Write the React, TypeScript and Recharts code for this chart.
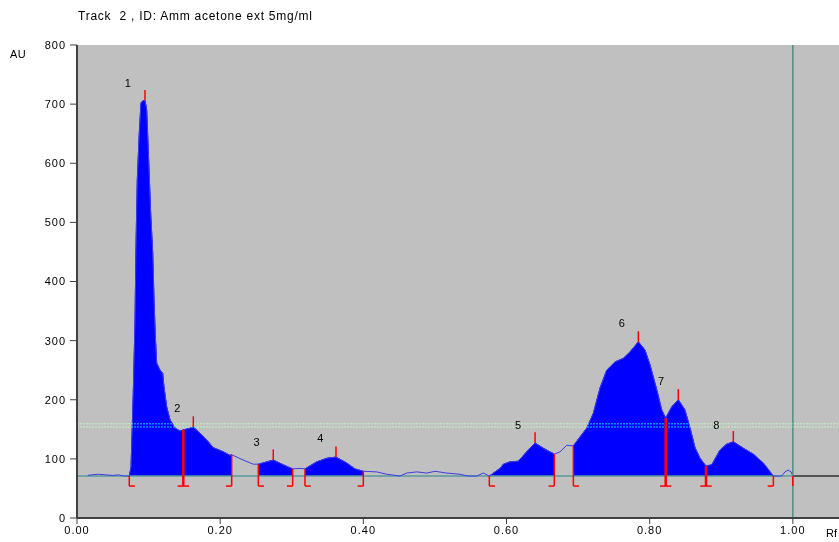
import React from 'react';
import {
  ComposedChart,
  Area,
  Line,
  XAxis,
  YAxis,
  CartesianGrid,
  ReferenceLine,
  ReferenceDot,
} from 'recharts';

const rfValues = [
  0.015, 0.02, 0.03, 0.04, 0.05, 0.058, 0.065, 0.073, 0.0755, 0.0787, 0.081, 0.0824, 0.0842, 0.087,
  0.0894, 0.0922, 0.095, 0.0974, 0.101, 0.1029, 0.1058, 0.1076, 0.1095, 0.1113, 0.116, 0.1197,
  0.1215, 0.1253, 0.13, 0.137, 0.1439, 0.1485, 0.1579, 0.1625, 0.1695, 0.1812, 0.1904, 0.2044,
  0.2137, 0.2161, 0.2323, 0.2463, 0.2533, 0.2742, 0.2882, 0.3013, 0.3115, 0.3185, 0.3349, 0.3488,
  0.3618, 0.3768, 0.3884, 0.4, 0.4187, 0.4327, 0.4512, 0.4606, 0.4746, 0.4885, 0.5001, 0.5165,
  0.5351, 0.5462, 0.5584, 0.5676, 0.576, 0.591, 0.5956, 0.6049, 0.6165, 0.6282, 0.6399, 0.6514,
  0.6668, 0.6748, 0.6841, 0.6934, 0.7027, 0.7121, 0.7213, 0.7307, 0.74, 0.7516, 0.7632, 0.7726,
  0.7842, 0.7935, 0.8005, 0.8099, 0.8168, 0.8224, 0.8308, 0.84, 0.8492, 0.8561, 0.8631, 0.8704,
  0.8787, 0.8867, 0.8983, 0.9077, 0.9169, 0.9309, 0.9448, 0.9588, 0.9728, 0.9845, 0.989, 0.9936,
  0.9975, 1.0,
];

const auValues = [
  72, 73, 74, 73, 72, 73, 71, 71, 86, 216, 330, 458, 572, 651,
  702, 706, 706, 690, 577, 516, 448, 369, 306, 262, 250, 245,
  222, 188, 166, 152, 147, 149, 152, 154, 146, 132, 119, 112,
  106, 107, 98, 91, 91, 98, 90, 83, 84, 83, 95, 101,
  103, 93, 83, 79, 78, 74, 71, 76, 78, 76, 79, 76,
  74, 71, 71, 76, 71, 84, 91, 95, 96, 112, 127, 118,
  108, 112, 123, 122, 137, 152, 177, 220, 250, 264, 270, 281,
  298, 284, 259, 217, 183, 169, 188, 200, 183, 154, 120, 101,
  88, 90, 115, 125, 129, 118, 108, 93, 71, 71, 78, 81,
  78, 71,
];

const regionStarts = [0.073, 0.2533, 0.3185, 0.576, 0.6934];
const regionEnds = [0.2161, 0.3013, 0.4, 0.6668, 0.9728];
const splitRf = [0.1485, 0.8224, 0.8787];
const trackEndRf = 1.0;

const peakRf = [0.095, 0.1625, 0.2742, 0.3618, 0.6399, 0.7842, 0.84, 0.9169];
const peakAu = [706, 154, 98, 103, 127, 298, 200, 129];
const peakNames = ['1', '2', '3', '4', '5', '6', '7', '8'];
const labelRf = [0.071, 0.140, 0.251, 0.340, 0.616, 0.761, 0.816, 0.893];
const labelAu = [736, 186, 129, 135, 157, 330, 232, 157];

const xTicks = [0, 0.2, 0.4, 0.6, 0.8, 1.0];
const yTicks = [0, 100, 200, 300, 400, 500, 600, 700, 800];
const baselineAu = 71;
const bracketAu = 54;
const greenLevels = [159.5, 154];

const X_MAX = 1.0645;
const FOOT = 0.008;
const PEAK_TICK = 18;

const inRegion = (r: number) =>
  regionStarts.some((s, i) => r >= s - 1e-9 && r <= regionEnds[i] + 1e-9);

const tableData = rfValues.map((r, i) => ({
  rf: r,
  au: auValues[i],
  fill: inRegion(r) ? auValues[i] : null,
}));

const auAt = (r: number) => {
  let best = 0;
  rfValues.forEach((v, i) => {
    if (Math.abs(v - r) < Math.abs(rfValues[best] - r)) best = i;
  });
  return auValues[best];
};

const RED = '#ff0000';
const FONT = '"Liberation Sans", Arial, sans-serif';

export default function App() {
  const brackets: React.ReactNode[] = [];
  regionStarts.forEach((r, i) => {
    brackets.push(
      <ReferenceLine key={`sv${i}`} segment={[{ x: r, y: bracketAu }, { x: r, y: auAt(r) }]} stroke={RED} strokeWidth={1.5} />,
      <ReferenceLine key={`sf${i}`} segment={[{ x: r, y: bracketAu }, { x: r + FOOT, y: bracketAu }]} stroke={RED} strokeWidth={1.5} />
    );
  });
  regionEnds.forEach((r, i) => {
    brackets.push(
      <ReferenceLine key={`ev${i}`} segment={[{ x: r, y: bracketAu }, { x: r, y: auAt(r) }]} stroke={RED} strokeWidth={1.5} />,
      <ReferenceLine key={`ef${i}`} segment={[{ x: r - FOOT, y: bracketAu }, { x: r, y: bracketAu }]} stroke={RED} strokeWidth={1.5} />
    );
  });
  splitRf.forEach((r, i) => {
    brackets.push(
      <ReferenceLine key={`pv${i}`} segment={[{ x: r, y: bracketAu }, { x: r, y: auAt(r) }]} stroke={RED} strokeWidth={2.5} />,
      <ReferenceLine key={`pf${i}`} segment={[{ x: r - FOOT, y: bracketAu }, { x: r + FOOT, y: bracketAu }]} stroke={RED} strokeWidth={1.5} />
    );
  });
  brackets.push(
    <ReferenceLine key="trackend" segment={[{ x: trackEndRf, y: bracketAu }, { x: trackEndRf, y: baselineAu }]} stroke={RED} strokeWidth={1.5} />
  );

  return (
    <div
      style={{
        position: 'absolute',
        left: 0,
        top: 0,
        width: 839,
        height: 542,
        overflow: 'hidden',
        background: '#ffffff',
        fontFamily: FONT,
      }}
    >
      <style>{`.greendot line { mix-blend-mode: screen; }`}</style>
      <div style={{ position: 'absolute', left: 78, top: 9, fontSize: 12, letterSpacing: 0.75, color: '#000', whiteSpace: 'pre' }}>
        {'Track  2 , ID: Amm acetone ext 5mg/ml'}
      </div>
      <div style={{ position: 'absolute', left: 10, top: 48, fontSize: 11, letterSpacing: 0.5, color: '#000' }}>AU</div>
      <div style={{ position: 'absolute', left: 826, top: 527, fontSize: 11, color: '#000' }}>Rf</div>
      <ComposedChart
        width={839}
        height={542}
        data={tableData}
        margin={{ top: 45, right: 0, bottom: 0, left: 0 }}
      >
        <CartesianGrid horizontal={false} vertical={false} fill="#c0c0c0" />
        <XAxis
          dataKey="rf"
          type="number"
          domain={[0, X_MAX]}
          ticks={xTicks}
          allowDataOverflow
          tickFormatter={(v: number) => v.toFixed(2)}
          axisLine={{ stroke: '#404040', strokeWidth: 2 }}
          tickLine={{ stroke: '#404040' }}
          tickSize={6}
          tick={{ fontSize: 11, fill: '#000', fontFamily: FONT, letterSpacing: 1 }}
          height={24}
        />
        <YAxis
          type="number"
          domain={[0, 800]}
          ticks={yTicks}
          width={77}
          axisLine={{ stroke: '#404040', strokeWidth: 2 }}
          tickLine={{ stroke: '#404040' }}
          tickSize={7}
          tickMargin={4}
          tick={{ fontSize: 11, fill: '#000', fontFamily: FONT, letterSpacing: 1 }}
        />
        <ReferenceLine segment={[{ x: 0, y: baselineAu }, { x: trackEndRf, y: baselineAu }]} stroke="#5a9a9a" strokeWidth={1.5} />
        <ReferenceLine segment={[{ x: trackEndRf, y: baselineAu }, { x: X_MAX, y: baselineAu }]} stroke="#303030" strokeWidth={1.5} />
        <Area
          dataKey="fill"
          type="linear"
          baseValue={baselineAu}
          stroke="#0000ff"
          strokeWidth={1}
          fill="#0000ff"
          fillOpacity={1}
          connectNulls={false}
          isAnimationActive={false}
          dot={false}
          activeDot={false}
        />
        <Line
          dataKey="au"
          type="linear"
          stroke="#3c3ce6"
          strokeWidth={1}
          dot={false}
          activeDot={false}
          isAnimationActive={false}
        />
        <ReferenceLine x={trackEndRf} stroke="#4f8f84" strokeWidth={1.5} />
        {greenLevels.map((g, i) => (
          <ReferenceLine key={`g${i}`} y={g} className="greendot" stroke="#00ff00" strokeOpacity={0.55} strokeWidth={1.5} strokeDasharray="2 1" />
        ))}
        {brackets}
        {peakRf.map((r, i) => (
          <ReferenceLine key={`pk${i}`} segment={[{ x: r, y: peakAu[i] }, { x: r, y: peakAu[i] + PEAK_TICK }]} stroke={RED} strokeWidth={1.5} />
        ))}
        {labelRf.map((r, i) => (
          <ReferenceDot
            key={`lb${i}`}
            x={r}
            y={labelAu[i]}
            r={0}
            fill="none"
            stroke="none"
            label={{ value: peakNames[i], position: 'center', fontSize: 11, fill: '#000', fontFamily: FONT }}
          />
        ))}
      </ComposedChart>
    </div>
  );
}
